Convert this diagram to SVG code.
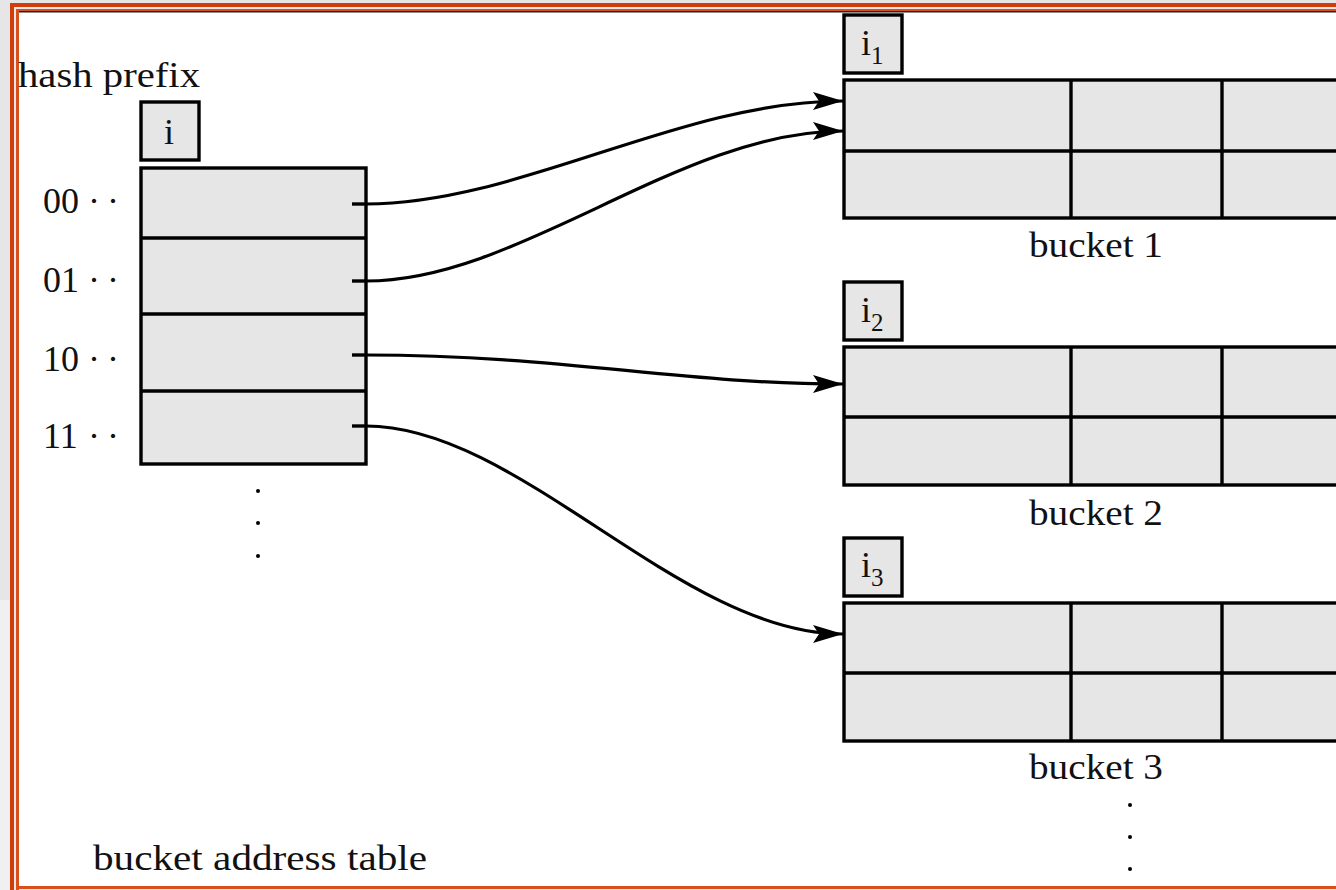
<svg xmlns="http://www.w3.org/2000/svg" width="1336" height="890" viewBox="0 0 1336 890">
<style>
.cell{fill:#e6e6e6;stroke:#000;stroke-width:3.4}
.ln{fill:none;stroke:#000;stroke-width:3.4}
.t{font-family:"Liberation Serif","DejaVu Serif",serif;font-size:36px;fill:#111}
.s{font-family:"Liberation Serif","DejaVu Serif",serif;font-size:25px;fill:#111}
.con{fill:none;stroke:#000;stroke-width:3.2}
</style>
<defs>
<marker id="ah" markerUnits="userSpaceOnUse" markerWidth="34" markerHeight="22" refX="31" refY="10" orient="auto" viewBox="0 0 34 22">
<path d="M31,10 L1,1 L7,10 L1,19 Z" fill="#000"/>
</marker>
</defs>
<!-- frame -->
<rect x="0" y="0" width="1336" height="890" fill="#e6e6e6"/>
<rect x="0" y="600" width="10" height="290" fill="#f0f0f0"/>
<rect x="18" y="11" width="1318" height="876" fill="#fff"/>
<rect x="10" y="3" width="4" height="887" fill="#d03c0c"/>
<rect x="10" y="3" width="1326" height="4" fill="#d03c0c"/>
<rect x="16" y="9" width="3" height="881" fill="#d8501c"/>
<rect x="16" y="9" width="1320" height="2" fill="#d8501c"/>
<rect x="19" y="11" width="1317" height="1.5" fill="#222"/>
<rect x="16" y="886" width="1320" height="3" fill="#d8501c"/>

<g id="hash-prefix-label"><text class="t" x="18" y="87" textLength="182" lengthAdjust="spacingAndGlyphs">hash prefix</text></g>
<g id="prefix-box"><rect class="cell" x="141" y="102" width="58" height="58"/><text class="t" x="169" y="144" text-anchor="middle">i</text></g>

<g id="bucket-address-table">
<rect class="cell" x="141" y="168" width="225" height="296"/>
<line class="ln" x1="141" y1="238" x2="366" y2="238"/>
<line class="ln" x1="141" y1="314" x2="366" y2="314"/>
<line class="ln" x1="141" y1="391" x2="366" y2="391"/>
<line class="ln" x1="352" y1="204" x2="366" y2="204"/>
<line class="ln" x1="352" y1="281" x2="366" y2="281"/>
<line class="ln" x1="352" y1="355" x2="366" y2="355"/>
<line class="ln" x1="352" y1="426" x2="366" y2="426"/>
</g>
<g id="row-labels">
<text class="t" x="43" y="213">00<tspan x="88">·</tspan><tspan x="107">·</tspan></text>
<text class="t" x="43" y="292">01<tspan x="88">·</tspan><tspan x="107">·</tspan></text>
<text class="t" x="43" y="371">10<tspan x="88">·</tspan><tspan x="107">·</tspan></text>
<text class="t" x="43" y="448">11<tspan x="88">·</tspan><tspan x="107">·</tspan></text>
</g>
<g id="table-dots" fill="#000"><circle cx="258" cy="491" r="2"/><circle cx="258" cy="523" r="2"/><circle cx="258" cy="556" r="2"/></g>
<g id="table-label"><text class="t" x="93" y="870" textLength="334" lengthAdjust="spacingAndGlyphs">bucket address table</text></g>

<g id="bucket1">
<rect class="cell" x="844" y="15" width="58" height="58"/>
<text class="t" x="861" y="55">i</text><text class="s" x="871" y="64">1</text>
<rect class="cell" x="844" y="80" width="520" height="138"/>
<line class="ln" x1="844" y1="151" x2="1340" y2="151"/>
<line class="ln" x1="1071" y1="80" x2="1071" y2="218"/>
<line class="ln" x1="1222" y1="80" x2="1222" y2="218"/>
<text class="t" x="1096" y="257" text-anchor="middle" textLength="134" lengthAdjust="spacingAndGlyphs">bucket 1</text>
</g>
<g id="bucket2">
<rect class="cell" x="844" y="282" width="58" height="58"/>
<text class="t" x="861" y="322">i</text><text class="s" x="871" y="331">2</text>
<rect class="cell" x="844" y="347" width="520" height="138"/>
<line class="ln" x1="844" y1="417" x2="1340" y2="417"/>
<line class="ln" x1="1071" y1="347" x2="1071" y2="485"/>
<line class="ln" x1="1222" y1="347" x2="1222" y2="485"/>
<text class="t" x="1096" y="525" text-anchor="middle" textLength="134" lengthAdjust="spacingAndGlyphs">bucket 2</text>
</g>
<g id="bucket3">
<rect class="cell" x="844" y="538" width="58" height="58"/>
<text class="t" x="861" y="577">i</text><text class="s" x="871" y="586">3</text>
<rect class="cell" x="844" y="603" width="520" height="138"/>
<line class="ln" x1="844" y1="673" x2="1340" y2="673"/>
<line class="ln" x1="1071" y1="603" x2="1071" y2="741"/>
<line class="ln" x1="1222" y1="603" x2="1222" y2="741"/>
<text class="t" x="1096" y="779" text-anchor="middle" textLength="134" lengthAdjust="spacingAndGlyphs">bucket 3</text>
</g>
<g id="bucket-dots" fill="#000"><circle cx="1130" cy="805" r="2"/><circle cx="1130" cy="837" r="2"/><circle cx="1130" cy="869" r="2"/></g>

<g id="connectors">
<path class="con" marker-end="url(#ah)" d="M366,204 C520,204 680,101 843,101"/>
<path class="con" marker-end="url(#ah)" d="M366,281 C520,281 680,131 843,131"/>
<path class="con" marker-end="url(#ah)" d="M366,355 C560,355 680,384 843,384"/>
<path class="con" marker-end="url(#ah)" d="M366,426 C520,426 680,634 843,634"/>
</g>
</svg>
